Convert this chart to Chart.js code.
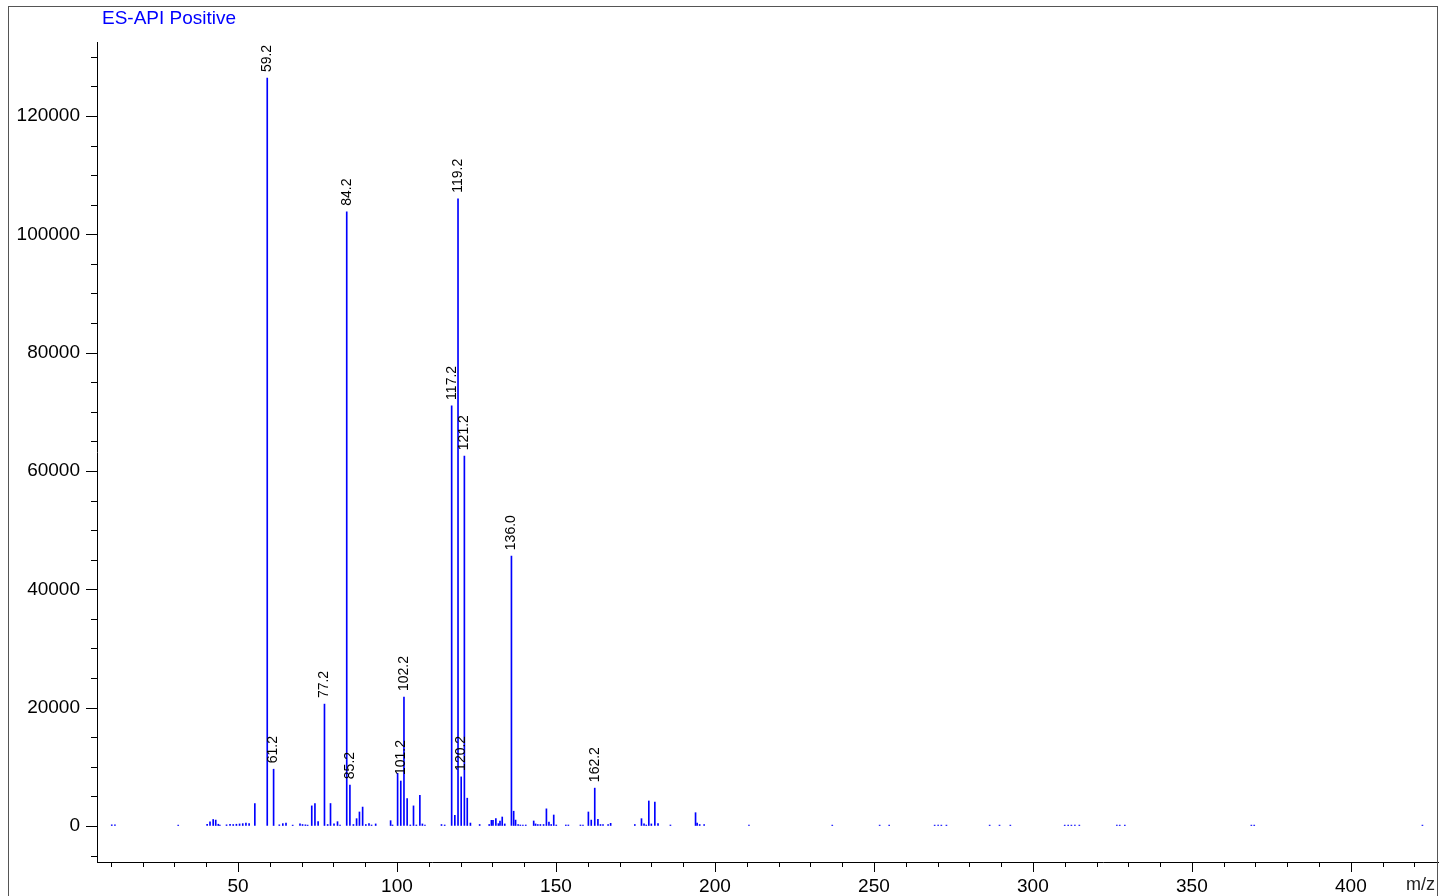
<!DOCTYPE html>
<html lang="en">
<head>
    <meta charset="UTF-8">
    <title>ES-API Positive</title>
    <script src="https://cdn.jsdelivr.net/npm/chart.js"></script>
    <style>
        html, body { margin: 0; padding: 0; background: #fff; }
        canvas { display: block; }
    </style>
</head>
<body>
    <canvas id="msChart" width="1441" height="896"></canvas>
    <script>
        // peak list (m/z, intensity)
        var mzValues = [
            10.3, 11.3, 31.2, 40.3, 41.2, 42.2, 43.0, 43.8, 44.3, 46.4, 47.5, 48.5, 49.5, 50.5, 51.5, 52.5, 53.5, 55.3,
            59.2, 61.2, 63.0, 64.1, 65.1, 67.2, 69.5, 70.3, 71.2, 71.9, 73.2, 74.2, 75.2, 77.2, 78.2, 79.1, 80.2, 81.3, 82.1,
            84.2, 85.2, 86.3, 87.3, 88.2, 89.2, 90.2, 91.2, 92.0, 93.3, 98.0, 98.6, 100.2, 101.2, 102.2, 103.2, 104.2,
            105.2, 106.1, 107.2, 108.0, 108.8, 114.0, 115.0, 117.2, 118.2, 119.2, 120.2, 121.2, 122.1, 123.1, 126.0,
            129.0, 129.7, 130.2, 131.1, 131.9, 132.4, 133.1, 133.9, 136.0, 136.7, 137.3, 138.1, 138.8, 139.6, 140.5,
            143.0, 143.6, 144.3, 145.1, 146.1, 147.0, 147.8, 148.5, 149.3, 150.1, 153.1, 153.9, 157.7, 158.5,
            160.2, 161.1, 162.2, 163.2, 164.0, 164.8, 166.4, 167.2, 174.8, 176.9, 177.7, 178.4, 179.2, 180.0, 181.1,
            182.1, 186.0, 193.9, 194.4, 195.2, 196.6, 210.7, 236.9, 251.8, 254.8, 269.1, 270.2, 271.2, 272.8,
            286.4, 289.5, 292.9, 310.0, 311.1, 312.1, 313.2, 314.6, 326.4, 327.3, 328.9, 368.7, 369.6, 422.5
        ];
        var intensities = [
            200, 200, 150, 300, 700, 1100, 1000, 300, 150, 200, 300, 250, 300, 350, 400, 500, 400, 3800,
            126400, 9600, 200, 400, 500, 150, 350, 250, 200, 150, 3400, 3800, 730, 20600, 250, 3800, 350, 730, 170,
            103800, 6900, 250, 1240, 2370, 3200, 250, 400, 170, 350, 900, 170, 8900, 7600, 21800, 4650, 170,
            3400, 170, 5200, 350, 170, 250, 170, 71000, 1800, 106000, 8300, 62500, 4700, 500, 250,
            250, 960, 960, 1240, 400, 850, 1520, 350, 45600, 2500, 1000, 250, 170, 170, 170,
            850, 350, 250, 250, 250, 2900, 680, 250, 1860, 170, 170, 170, 170, 170,
            2370, 1000, 6400, 1130, 250, 250, 250, 450, 250, 1240, 350, 170, 4230, 350, 4060,
            400, 170, 2250, 500, 250, 250, 170, 150, 150, 150, 150, 150, 150, 150,
            150, 150, 150, 150, 150, 150, 150, 150, 150, 150, 150, 150, 150, 150
        ];
        // peaks carrying an m/z annotation
        var labelledPeaks = [59.2, 61.2, 77.2, 84.2, 85.2, 101.2, 102.2, 117.2, 119.2, 120.2, 121.2, 136.0, 162.2];

        // axis ticks: every 10 on m/z (labels on 50s), every 5000 on intensity (labels on 20000s)
        var xTicks = [10, 20, 30, 40, 50, 60, 70, 80, 90, 100, 110, 120, 130, 140, 150, 160, 170, 180, 190, 200,
            210, 220, 230, 240, 250, 260, 270, 280, 290, 300, 310, 320, 330, 340, 350, 360, 370, 380, 390, 400, 410, 420];
        var yTicks = [-5000, 0, 5000, 10000, 15000, 20000, 25000, 30000, 35000, 40000, 45000, 50000, 55000, 60000,
            65000, 70000, 75000, 80000, 85000, 90000, 95000, 100000, 105000, 110000, 115000, 120000, 125000, 130000];

        var xMin = 5.66, xMax = 427.4;
        var yMin = -6084, yMax = 132500;
        var FONT = "'Liberation Sans', Arial, sans-serif";

        var points = mzValues.map(function (mz, i) { return { x: mz, y: intensities[i] }; });

        var decor = {
            id: 'decor',
            beforeDraw: function (chart) {
                var ctx = chart.ctx;
                ctx.save();
                ctx.fillStyle = '#fff';
                ctx.fillRect(0, 0, chart.width, chart.height);
                ctx.restore();
            },
            afterDraw: function (chart) {
                var ctx = chart.ctx, xs = chart.scales.x, ys = chart.scales.y;
                var area = chart.chartArea;
                ctx.save();
                ctx.strokeStyle = '#000';
                ctx.lineWidth = 1;
                ctx.beginPath();
                ys.ticks.forEach(function (t) {
                    var y = Math.round(ys.getPixelForValue(t.value)) + 0.5;
                    var len = t.value % 20000 === 0 ? 11 : 6;
                    ctx.moveTo(area.left - len, y);
                    ctx.lineTo(area.left, y);
                });
                xs.ticks.forEach(function (t) {
                    var x = Math.round(xs.getPixelForValue(t.value)) + 0.5;
                    var len = t.value % 50 === 0 ? 10 : 5;
                    ctx.moveTo(x, area.bottom);
                    ctx.lineTo(x, area.bottom + len);
                });
                ctx.stroke();

                // outer frame
                ctx.strokeStyle = '#555';
                ctx.strokeRect(8.5, 6.5, 1429, 900);

                // title and axis unit
                ctx.fillStyle = '#0000ff';
                ctx.font = '19px ' + FONT;
                ctx.textBaseline = 'middle';
                ctx.textAlign = 'left';
                ctx.fillText('ES-API Positive', 102, 19);
                ctx.fillStyle = '#222';
                ctx.font = '18px ' + FONT;
                ctx.fillText('m/z', 1406, 885);

                // peak annotations
                ctx.fillStyle = '#000';
                ctx.font = '14px ' + FONT;
                labelledPeaks.forEach(function (mz) {
                    var i = mzValues.indexOf(mz);
                    var x = xs.getPixelForValue(mz);
                    var y = ys.getPixelForValue(intensities[i]);
                    ctx.save();
                    ctx.translate(x, y - 6);
                    ctx.rotate(-Math.PI / 2);
                    ctx.textAlign = 'left';
                    ctx.textBaseline = 'middle';
                    ctx.fillText(mz.toFixed(1), 0, 0);
                    ctx.restore();
                });
                ctx.restore();
            }
        };

        var ctx = document.getElementById('msChart').getContext('2d');
        var msChart = new Chart(ctx, {
            type: 'bar',
            data: {
                datasets: [{
                    label: 'ES-API Positive',
                    data: points,
                    backgroundColor: '#0000ff',
                    borderWidth: 0,
                    barThickness: 1
                }]
            },
            options: {
                responsive: false,
                animation: false,
                devicePixelRatio: 1,
                layout: { padding: { left: 0, top: 42, right: 3, bottom: 0 } },
                plugins: {
                    legend: { display: false },
                    tooltip: { enabled: false }
                },
                scales: {
                    x: {
                        type: 'linear',
                        offset: false,
                        min: xMin,
                        max: xMax,
                        grid: { display: true, drawOnChartArea: false, drawTicks: false, offset: false },
                        border: { display: true, color: '#000', width: 1 },
                        afterBuildTicks: function (scale) {
                            scale.ticks = xTicks.map(function (v) { return { value: v }; });
                        },
                        ticks: {
                            autoSkip: false,
                            maxRotation: 0,
                            padding: 13,
                            color: '#000',
                            font: { size: 19, family: FONT },
                            callback: function (v) { return v % 50 === 0 ? String(v) : ''; }
                        },
                        afterFit: function (scale) { scale.height = 34; }
                    },
                    y: {
                        min: yMin,
                        max: yMax,
                        grid: { display: true, drawOnChartArea: false, drawTicks: false },
                        border: { display: true, color: '#000', width: 1 },
                        afterBuildTicks: function (scale) {
                            scale.ticks = yTicks.map(function (v) { return { value: v }; });
                        },
                        ticks: {
                            autoSkip: false,
                            padding: 17,
                            color: '#000',
                            font: { size: 19, family: FONT },
                            callback: function (v) { return v % 20000 === 0 ? String(v) : ''; }
                        },
                        afterFit: function (scale) { scale.width = 97; }
                    }
                }
            },
            plugins: [decor]
        });
    </script>
</body>
</html>
